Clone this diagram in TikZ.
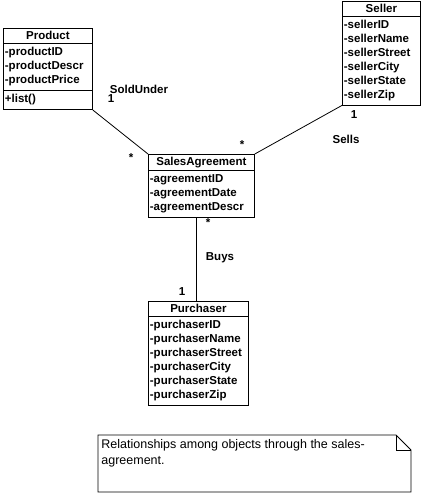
\documentclass[tikz,border=0pt]{standalone}
\usepackage{fontspec}
\setmainfont{Liberation Sans}
\usetikzlibrary{shapes.multipart}

\newcommand{\classname}[1]{\makebox[\linewidth][c]{\rule[-1.5pt]{0pt}{10pt}#1}}

\begin{document}
\begin{tikzpicture}[x=1pt, y=-1pt, line width=0.8pt,
  umlclass/.style={draw, rectangle split, rectangle split parts=#1,
    anchor=north west, inner xsep=1.5pt, inner ysep=2pt,
    font=\fontsize{11.5}{14}\selectfont\bfseries},
  mult/.style={inner sep=0pt, font=\fontsize{11.5}{14}\selectfont\bfseries}]
  \useasboundingbox (0,0) rectangle (425,497);

  % classes
  \node[umlclass=3, text width=86pt] (product) at (3,28)
  {\classname{Product}
    \nodepart{second}\strut -productID\\ -productDescr\\ -productPrice\strut
    \nodepart{third}\strut +list()\rule[-5pt]{0pt}{5pt}};

  \node[umlclass=2, text width=75pt] (seller) at (342,1)
  {\classname{Seller}
    \nodepart{second}\strut -sellerID\\ -sellerName\\ -sellerStreet\\
    -sellerCity\\ -sellerState\\ -sellerZip\strut};

  \node[umlclass=2, text width=103pt] (agreement) at (148,154)
  {\classname{SalesAgreement}
    \nodepart{second}\strut -agreementID\\ -agreementDate\\ -agreementDescr\strut};

  \node[umlclass=2, text width=97pt] (purchaser) at (148,301)
  {\classname{Purchaser}
    \nodepart{second}\strut -purchaserID\\ -purchaserName\\ -purchaserStreet\\
    -purchaserCity\\ -purchaserState\\ -purchaserZip\strut};

  % associations
  \draw (product.south east) -- (agreement.north west);
  \draw (seller.south west) -- (agreement.north east);
  \draw ([xshift=-5pt]agreement.south) -- ([xshift=-5pt]agreement.south |- purchaser.north);

  % association labels
  \node[mult] (soldUnder) at (139,89) {SoldUnder};
  \node[mult] (soldOne) at (111,99) {1};
  \node[mult] (soldStar) at (131,158) {*};
  \node[mult] (sells) at (346,139) {Sells};
  \node[mult] (sellsOne) at (354,115) {1};
  \node[mult] (sellsStar) at (242,145) {*};
  \node[mult] (buys) at (220,258) {Buys};
  \node[mult] (buysStar) at (208,223) {*};
  \node[mult] (buysOne) at (182,292) {1};

  % note
  \draw (98,435) -- (396,435) -- (411,450) -- (411,492) -- (98,492) -- cycle;
  \draw (396,435) |- (411,450);
  \node[anchor=north west, align=left, inner sep=0pt,
    font=\fontsize{12.5}{16}\selectfont] (noteText) at (101,439)
  {Relationships among objects through the sales-\\agreement.};
\end{tikzpicture}
\end{document}
